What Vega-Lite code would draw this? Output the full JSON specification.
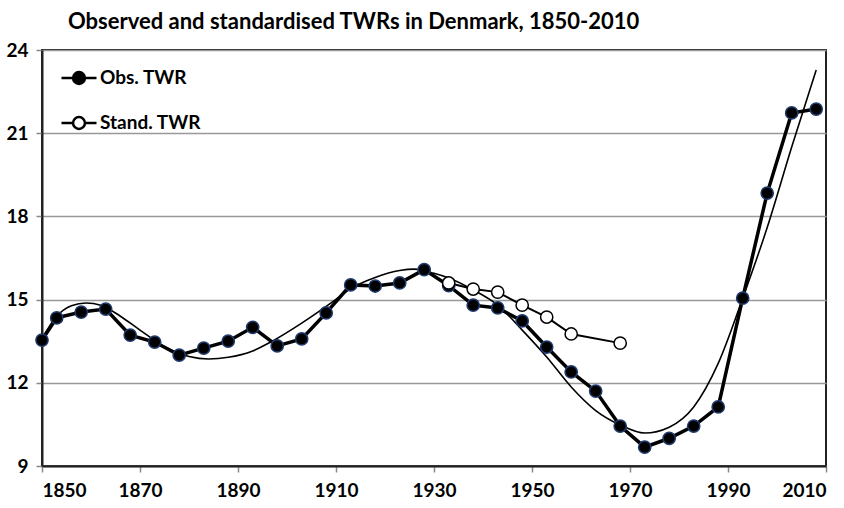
{
  "$schema": "https://vega.github.io/schema/vega-lite/v6.json",
  "width": 784,
  "height": 416,
  "autosize": "none",
  "padding": {"left": 42, "top": 50, "right": 18, "bottom": 42},
  "background": "white",
  "title": {
    "text": "Observed and standardised TWRs in Denmark, 1850-2010",
    "anchor": "start",
    "frame": "group",
    "dx": 26,
    "font": "Lato",
    "fontSize": 22,
    "fontWeight": "bold",
    "color": "black",
    "offset": 7
  },
  "config": {
    "view": {"stroke": "#222", "strokeWidth": 2},
    "axis": {
      "labelFont": "Lato",
      "labelFontSize": 19,
      "labelFontWeight": "bold",
      "labelColor": "black",
      "tickColor": "#888",
      "tickSize": 6,
      "tickWidth": 1.5,
      "domainColor": "#222",
      "domainWidth": 2,
      "title": null
    }
  },
  "datasets": {
    "obs": [
      {"year": 1850, "value": 13.54, "series": "Obs. TWR"},
      {"year": 1853, "value": 14.34, "series": "Obs. TWR"},
      {"year": 1858, "value": 14.55, "series": "Obs. TWR"},
      {"year": 1863, "value": 14.66, "series": "Obs. TWR"},
      {"year": 1868, "value": 13.72, "series": "Obs. TWR"},
      {"year": 1873, "value": 13.47, "series": "Obs. TWR"},
      {"year": 1878, "value": 13.0, "series": "Obs. TWR"},
      {"year": 1883, "value": 13.25, "series": "Obs. TWR"},
      {"year": 1888, "value": 13.5, "series": "Obs. TWR"},
      {"year": 1893, "value": 14.0, "series": "Obs. TWR"},
      {"year": 1898, "value": 13.33, "series": "Obs. TWR"},
      {"year": 1903, "value": 13.58, "series": "Obs. TWR"},
      {"year": 1908, "value": 14.52, "series": "Obs. TWR"},
      {"year": 1913, "value": 15.53, "series": "Obs. TWR"},
      {"year": 1918, "value": 15.49, "series": "Obs. TWR"},
      {"year": 1923, "value": 15.6, "series": "Obs. TWR"},
      {"year": 1928, "value": 16.08, "series": "Obs. TWR"},
      {"year": 1933, "value": 15.5, "series": "Obs. TWR"},
      {"year": 1938, "value": 14.8, "series": "Obs. TWR"},
      {"year": 1943, "value": 14.7, "series": "Obs. TWR"},
      {"year": 1948, "value": 14.23, "series": "Obs. TWR"},
      {"year": 1953, "value": 13.29, "series": "Obs. TWR"},
      {"year": 1958, "value": 12.39, "series": "Obs. TWR"},
      {"year": 1963, "value": 11.7, "series": "Obs. TWR"},
      {"year": 1968, "value": 10.44, "series": "Obs. TWR"},
      {"year": 1973, "value": 9.68, "series": "Obs. TWR"},
      {"year": 1978, "value": 10.0, "series": "Obs. TWR"},
      {"year": 1983, "value": 10.44, "series": "Obs. TWR"},
      {"year": 1988, "value": 11.13, "series": "Obs. TWR"},
      {"year": 1993, "value": 15.05, "series": "Obs. TWR"},
      {"year": 1998, "value": 18.84, "series": "Obs. TWR"},
      {"year": 2003, "value": 21.73, "series": "Obs. TWR"},
      {"year": 2008, "value": 21.87, "series": "Obs. TWR"}
    ],
    "stand": [
      {"year": 1933, "value": 15.6, "series": "Stand. TWR"},
      {"year": 1938, "value": 15.38, "series": "Stand. TWR"},
      {"year": 1943, "value": 15.27, "series": "Stand. TWR"},
      {"year": 1948, "value": 14.8, "series": "Stand. TWR"},
      {"year": 1953, "value": 14.37, "series": "Stand. TWR"},
      {"year": 1958, "value": 13.76, "series": "Stand. TWR"},
      {"year": 1968, "value": 13.43, "series": "Stand. TWR"}
    ],
    "trend": [
      {"year": 1850, "value": 13.6},
      {"year": 1853, "value": 14.4},
      {"year": 1856, "value": 14.78},
      {"year": 1859, "value": 14.88},
      {"year": 1862, "value": 14.8},
      {"year": 1866, "value": 14.4},
      {"year": 1870, "value": 13.9},
      {"year": 1875, "value": 13.3},
      {"year": 1880, "value": 12.95},
      {"year": 1884, "value": 12.86},
      {"year": 1888, "value": 12.92},
      {"year": 1893, "value": 13.15},
      {"year": 1897, "value": 13.5},
      {"year": 1903, "value": 14.15},
      {"year": 1909, "value": 14.88},
      {"year": 1913, "value": 15.4},
      {"year": 1918, "value": 15.8},
      {"year": 1923, "value": 16.05},
      {"year": 1926, "value": 16.1},
      {"year": 1930, "value": 15.95},
      {"year": 1933, "value": 15.78},
      {"year": 1938, "value": 15.35},
      {"year": 1943, "value": 14.8},
      {"year": 1948, "value": 13.9},
      {"year": 1953, "value": 12.93},
      {"year": 1958, "value": 11.85},
      {"year": 1963, "value": 11.0},
      {"year": 1968, "value": 10.48},
      {"year": 1973, "value": 10.19},
      {"year": 1978, "value": 10.4},
      {"year": 1983, "value": 11.13},
      {"year": 1988, "value": 12.7},
      {"year": 1993, "value": 15.05},
      {"year": 1998, "value": 17.6},
      {"year": 2003, "value": 20.5},
      {"year": 2008, "value": 23.28}
    ]
  },
  "encoding": {
    "x": {
      "field": "year",
      "type": "quantitative",
      "scale": {"domain": [1850, 2010], "nice": false, "zero": false},
      "axis": {"values": [1850, 1870, 1890, 1910, 1930, 1950, 1970, 1990, 2010], "format": "d", "grid": false, "labelPadding": 9}
    },
    "y": {
      "field": "value",
      "type": "quantitative",
      "scale": {"domain": [9, 24], "nice": false, "zero": false},
      "axis": {"values": [9, 12, 15, 18, 21, 24], "grid": true, "gridColor": "#999", "gridWidth": 1.5, "labelPadding": 8}
    }
  },
  "layer": [
    {
      "data": {"name": "trend"},
      "mark": {"type": "line", "color": "black", "strokeWidth": 1.6, "interpolate": "monotone"}
    },
    {
      "data": {"name": "obs"},
      "mark": {"type": "line", "color": "black", "strokeWidth": 3.5}
    },
    {
      "data": {"name": "stand"},
      "mark": {"type": "line", "color": "black", "strokeWidth": 2}
    },
    {
      "data": {"name": "obs"},
      "mark": {"type": "point", "filled": true, "fill": "black", "stroke": "#1f3a6e", "strokeWidth": 1.5, "size": 150, "opacity": 1},
      "encoding": {
        "fill": {
          "field": "series",
          "type": "nominal",
          "scale": {"domain": ["Obs. TWR", "Stand. TWR"], "range": ["black", "white"]},
          "legend": {
            "orient": "none",
            "legendX": 18,
            "legendY": 9,
            "title": null,
            "symbolType": "M-1,0H-0.34M0.34,0H1M-0.34,0A0.34,0.34,0,1,1,0.34,0A0.34,0.34,0,1,1,-0.34,0Z",
            "symbolSize": 1225,
            "symbolStrokeColor": "black",
            "symbolStrokeWidth": 2.5,
            "symbolOpacity": 1,
            "labelFont": "Lato",
            "labelFontSize": 19,
            "labelFontWeight": "bold",
            "labelColor": "black",
            "labelOffset": 2,
            "rowPadding": 15
          }
        }
      }
    },
    {
      "data": {"name": "stand"},
      "mark": {"type": "point", "filled": true, "stroke": "black", "strokeWidth": 1.5, "size": 150, "opacity": 1},
      "encoding": {
        "fill": {"field": "series", "type": "nominal"}
      }
    }
  ]
}
